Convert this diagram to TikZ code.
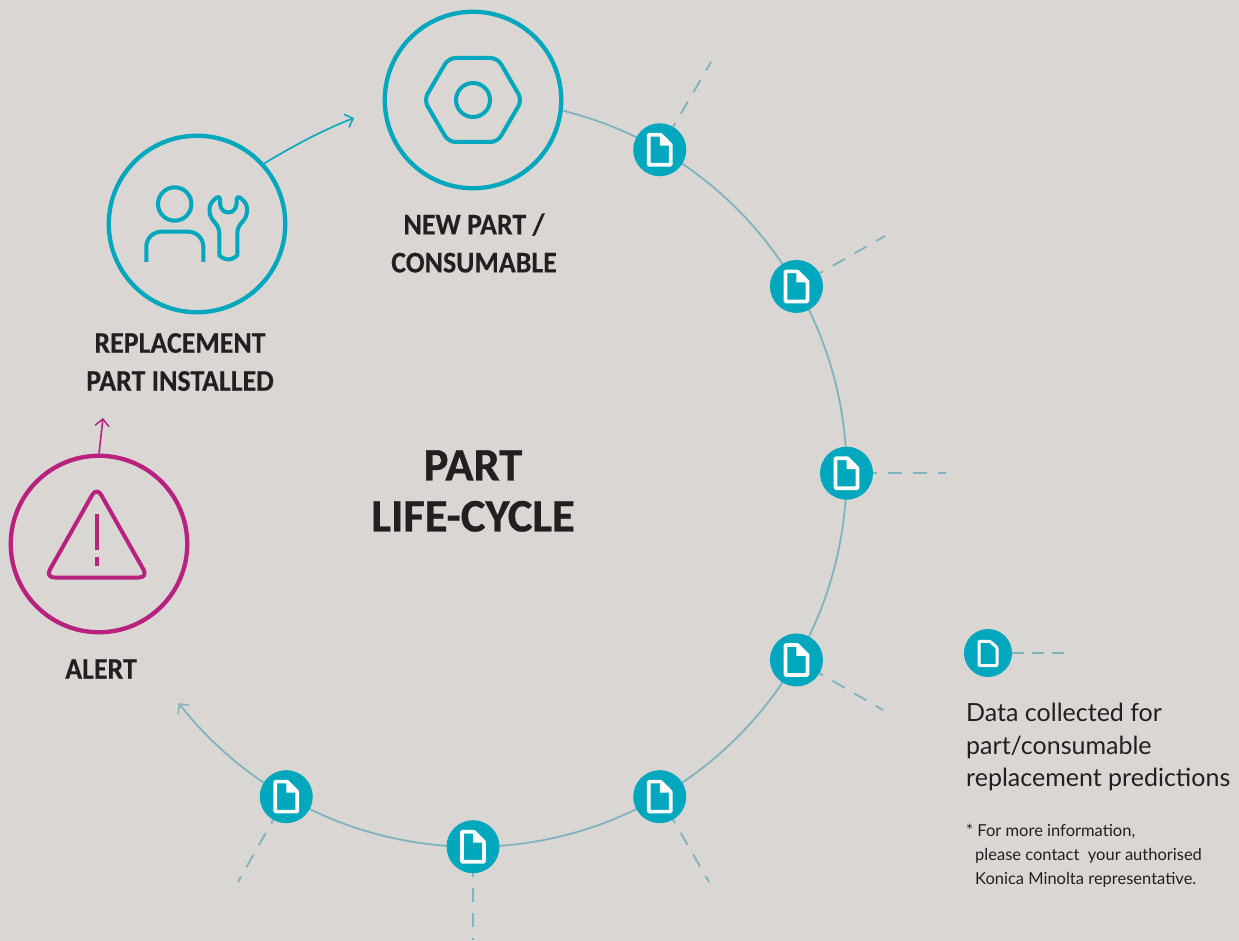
\documentclass[tikz,border=0pt]{standalone}
\usepackage{fontspec}
\setmainfont{Lato}
\newfontfamily\headfont[FakeStretch=0.93,BoldFeatures={FakeBold=0.25}]{Carlito}
\newfontfamily\titlefont[BoldFeatures={FakeBold=0.7}]{Carlito}
\usetikzlibrary{arrows.meta,calc}
\definecolor{paper}{HTML}{D9D6D3}
\definecolor{teal}{HTML}{00A7BD}
\definecolor{ringline}{HTML}{7FB3BE}
\definecolor{alertred}{HTML}{B9217F}
\definecolor{inktext}{HTML}{231F20}
\tikzset{
  bigring/.style={circle,draw=#1,line width=4.3pt,fill=paper,minimum size=176.5pt,inner sep=0pt},
  datanode/.style={circle,fill=teal,minimum size=#1,inner sep=0pt},
  dataline/.style={ringline,line width=1.8pt,dash pattern=on 14pt off 11pt,dash phase=10pt},
  flowtip/.style={-{Straight Barb[length=7pt,width=14pt,line width=1.5pt]}},
  headlabel/.style={font=\headfont\bfseries\fontsize{30}{38}\selectfont,text=inktext,align=center},
  icon/.style={line width=4pt,line join=round},
  docicon/.pic={
    \draw[white,line width=3.6pt,line join=round] (-11,-15) -- (1,-15) -- (11,-5) -- (11,15) -- (-11,15) -- cycle;
    \fill[white] (0,-15) -- (0,-4) -- (11,-4) -- cycle;
  },
  legendicon/.pic={
    \draw[white,line width=3pt,line join=round,rounded corners=1pt] (-9,-12.2) -- (2,-12.2) -- (9,-6) -- (9,12.2) -- (-9,12.2) -- cycle;
  }
}
\begin{document}
\begin{tikzpicture}[x=1pt,y=-1pt]
  \pgfmathsetmacro\rring{373.5}
  \useasboundingbox[fill=paper] (0,0) rectangle (1239,941);
  \coordinate (ring) at (473,473.2);

% the ring, angles count clockwise here
  \coordinate (ringstart) at ($(ring)+(-76:\rring)$);
  \draw[ringline,line width=1.8pt,flowtip] (ringstart) arc[start angle=-76,end angle=142,radius=\rring];

% data points on the ring
  \foreach \name/\ang/\endx/\endy in {data1/-60/711/62, data2/-30/885/236, data3/0/946/473.2,
      data4/30/883/710, data5/60/709/882, data6/90/473/940, data7/120/238/882} {
    \node[datanode=53pt] (\name) at ($(ring)+(\ang:\rring)$) {};
    \coordinate (\name end) at (\endx,\endy);
    \draw[dataline] (\name) -- (\name end);
    \pic at (\name) {docicon};
  }

% new part
  \node[bigring=teal] (newpart) at (473,100) {};
  \draw[teal,icon,rounded corners=7pt] (424,100) -- (448.5,58) -- (497.5,58) -- (522,100) -- (497.5,142) -- (448.5,142) -- cycle;
  \draw[teal,icon] (473,100) circle (17);
  \node[headlabel] (newlabel) at (474,243) {NEW PART /\\CONSUMABLE};

% replacement part installed
  \node[bigring=teal] (replaced) at (197,224) {};
  \draw[teal,icon] (174.7,204) circle (16.7);
  \draw[teal,icon,line join=miter,rounded corners=15pt] (146.3,262) -- (146.3,231.7) -- (203.3,231.7) -- (203.3,262);
  \draw[teal,icon,rounded corners=5pt] (228.3,214) -- (220,209) -- (220,194.5) -- (209.5,204) -- (209.5,216) -- (219.3,228)
    -- (219.3,250.4) arc[start angle=180,end angle=0,radius=9] -- (237.3,228) -- (247.1,216) -- (247.1,204) -- (236.6,194.5) -- (236.6,209) -- cycle;
  \node[headlabel] (replacedlabel) at (180,362) {REPLACEMENT\\PART INSTALLED};
  \coordinate (newtip) at (354,118);
  \draw[teal,line width=1.6pt,flowtip] (replaced.42) .. controls (293,146) and (323,130) .. (newtip);

% alert
  \node[bigring=alertred] (alert) at (99,544) {};
  \draw[alertred,icon,rounded corners=9pt] (96.7,487) -- (148,577.5) -- (45.4,577.5) -- cycle;
  \draw[alertred,line width=4.2pt] (96.7,514) -- (96.7,550);
  \draw[alertred,line width=4.2pt] (96.7,557) -- (96.7,566);
  \node[headlabel] (alertlabel) at (101,669) {ALERT};
  \coordinate (alerttip) at (103,418);
  \draw[alertred,line width=1.6pt,flowtip] (alert.north) -- (alerttip);

% centre title
  \node[headlabel,font=\titlefont\bfseries\fontsize{46.5}{51}\selectfont] (title) at (473,491) {PART\\LIFE-CYCLE};

% legend
  \node[datanode=48pt] (legend) at (988,653) {};
  \coordinate (legendend) at (1066,653);
  \draw[dataline,dash pattern=on 12pt off 8pt,dash phase=0pt] (legend) -- (legendend);
  \pic at (988,653.5) {legendicon};
  \node[anchor=north west,inner sep=0pt,align=left,text=inktext,font=\fontsize{25}{32.5}\selectfont] (legendtext) at (966,703)
    {Data collected for\\part/consumable\\replacement predictions};
  \node[anchor=north west,inner sep=0pt,align=left,text=inktext,font=\fontsize{16.5}{24}\selectfont] (moreinfo) at (966,824)
    {* For more information,\\\hspace*{9pt}please contact\ \ your authorised\\\hspace*{9pt}Konica Minolta representative.};
\end{tikzpicture}
\end{document}
